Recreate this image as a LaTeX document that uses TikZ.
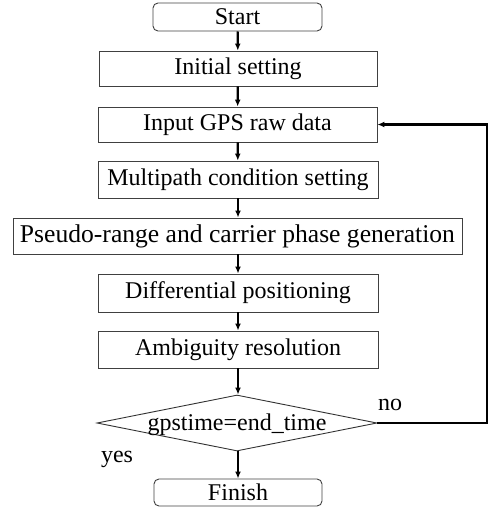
\documentclass[tikz,border=0pt]{standalone}
\usepackage{fontspec}
\setmainfont{Liberation Serif}
\usetikzlibrary{shapes.geometric,arrows.meta}
\begin{document}
\begin{tikzpicture}[x=1pt,y=1pt,
  every node/.style={font=\fontsize{24}{27}\selectfont},
  procbox/.style={draw=black!75,line width=0.9pt,rectangle,inner sep=0pt},
  termbox/.style={draw=black!75,line width=0.9pt,rectangle,rounded corners=5pt,inner sep=0pt},
  decbox/.style={draw=black!80,line width=0.9pt,diamond,aspect=5,inner sep=0pt,minimum width=280pt,minimum height=56pt},
  flow/.style={line width=2.2pt,-{Latex[length=7pt,width=6pt]}}]
\useasboundingbox (0,0) rectangle (489,-509);
\node[termbox,minimum width=169pt,minimum height=28pt] (start) at (237.5,-17) {Start};
\node[procbox,minimum width=278pt,minimum height=35pt] (init) at (238,-68.5) {Initial setting};
\node[procbox,minimum width=279pt,minimum height=35pt] (input) at (237.5,-124.5) {Input GPS raw data};
\node[procbox,minimum width=280pt,minimum height=37pt] (multi) at (238,-179.5) {Multipath condition setting};
\node[procbox,minimum width=449pt,minimum height=36pt,font=\fontsize{25.6}{29}\selectfont] (pseudo) at (237.5,-236) {Pseudo-range and carrier phase generation};
\node[procbox,minimum width=280pt,minimum height=38pt] (diff) at (238,-293) {Differential positioning};
\node[procbox,minimum width=280pt,minimum height=37pt] (amb) at (238,-349.5) {Ambiguity resolution};
\node[decbox] (dec) at (237,-423) {\makebox[0pt]{\raisebox{-7pt}[0pt][0pt]{gpstime=end\_time}}};
\node[termbox,minimum width=168pt,minimum height=27pt] (fin) at (238,-492.5) {Finish};
\node (yes) at (117,-459) {yes};
\node (no) at (390,-405) {no};
\coordinate (c1) at (487,-423);
\coordinate (c2) at (487,-124.5);
\draw[flow] (start) -- (init);
\draw[flow] (init) -- (input);
\draw[flow] (input) -- (multi);
\draw[flow] (multi) -- (multi |- pseudo.north);
\draw[flow] (multi |- pseudo.south) -- (diff);
\draw[flow] (diff) -- (amb);
\draw[flow] (amb) -- (amb |- dec.north);
\draw[flow] (amb |- dec.south) -- (fin);
\draw[flow] (dec.east) -- (c1) -- (c2) -- (input.east);
\end{tikzpicture}
\end{document}
